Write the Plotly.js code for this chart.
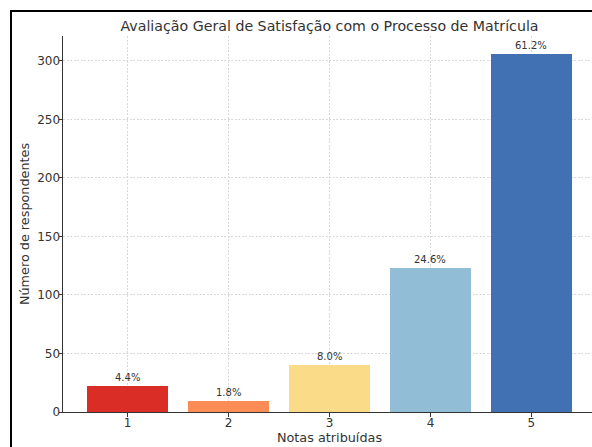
<!DOCTYPE html>
<html>
<head>
<meta charset="utf-8">
<script src="https://cdn.plot.ly/plotly-3.0.1.min.js"></script>
<style>
html, body { margin: 0; padding: 0; width: 592px; height: 447px; overflow: hidden; background: #fff; }
#wrap { position: relative; width: 592px; height: 447px; overflow: hidden; }
#chart { position: absolute; left: 0; top: 0; }
#frame { position: absolute; left: 10px; top: 10px; width: 700px; height: 600px;
  border-left: 2px solid #000; border-top: 2px solid #000; pointer-events: none; }
</style>
</head>
<body>
<div id="wrap">
  <div id="chart"></div>
  <div id="frame"></div>
</div>
<script>
const categories = [1, 2, 3, 4, 5];
const counts = [22, 9, 40, 123, 306];
const percentLabels = ["4.4%", "1.8%", "8.0%", "24.6%", "61.2%"];
const barColors = ["#d92d25", "#fb8c56", "#fadc88", "#91bed6", "#4271b3"];
const tickLabels = ["1", "2", "3", "4", "5"];
const yTicks = [0, 50, 100, 150, 200, 250, 300];

const font = "DejaVu Sans, sans-serif";

const trace = {
  type: "bar",
  x: categories,
  y: counts,
  width: 0.8,
  marker: { color: barColors, line: { width: 0 } },
  hoverinfo: "skip"
};

const annotations = categories.map((c, i) => ({
  x: c, y: counts[i], xref: "x", yref: "y",
  text: percentLabels[i], showarrow: false,
  yanchor: "bottom", yshift: 1,
  font: { family: font, size: 10, color: "#333" }
}));

const layout = {
  width: 620, height: 447,
  margin: { l: 63, r: 24, t: 36, b: 35 },
  paper_bgcolor: "#fff", plot_bgcolor: "#fff",
  showlegend: false,
  bargap: 0,
  title: {
    text: "Avaliação Geral de Satisfação com o Processo de Matrícula",
    font: { family: font, size: 14.2, color: "#333" },
    x: 0.5, xref: "paper", xanchor: "center",
    y: 1, yref: "paper", yanchor: "bottom", pad: { b: 5 }
  },
  xaxis: {
    range: [0.36, 5.64],
    tickvals: categories, ticktext: tickLabels,
    ticks: "outside", ticklen: 3.5, tickwidth: 1, tickcolor: "#333",
    ticklabelstandoff: -4,
    showline: true, linecolor: "#333", linewidth: 1,
    showgrid: true, gridcolor: "#d9d9d9", gridwidth: 1, griddash: "2px,1.5px",
    zeroline: false,
    layer: "above traces",
    tickfont: { family: font, size: 12, color: "#333" },
    title: { text: "Notas atribuídas", font: { family: font, size: 12.8, color: "#333" }, standoff: 2 }
  },
  yaxis: {
    range: [0, 321.3],
    tickvals: yTicks,
    ticks: "outside", ticklen: 3.5, tickwidth: 1, tickcolor: "#333",
    ticklabelstandoff: -4,
    showline: true, linecolor: "#333", linewidth: 1,
    showgrid: true, gridcolor: "#d9d9d9", gridwidth: 1, griddash: "2px,1.5px",
    zeroline: false,
    layer: "above traces",
    tickfont: { family: font, size: 12, color: "#333" },
    title: { text: "Número de respondentes", font: { family: font, size: 12.8, color: "#333" }, standoff: 4 }
  },
  annotations: annotations
};

Plotly.newPlot("chart", [trace], layout, { displayModeBar: false, staticPlot: true });
</script>
</body>
</html>
